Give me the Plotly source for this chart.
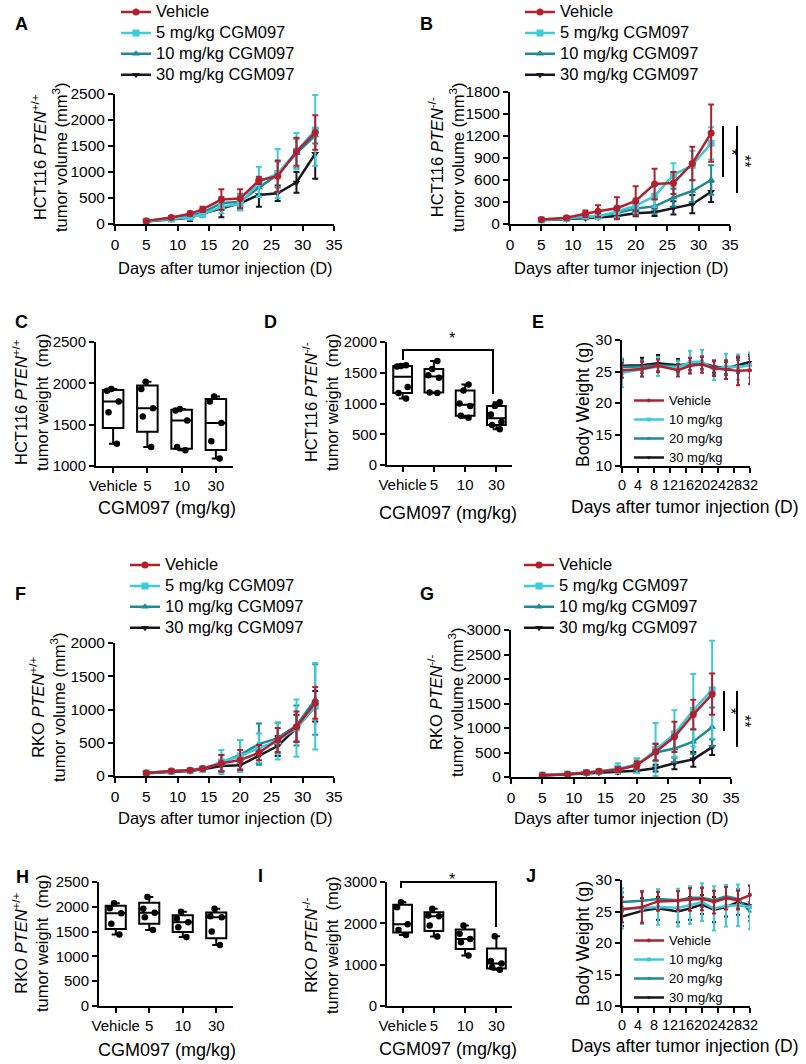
import plotly.graph_objects as go

W, H = 806, 1064
FONT = "Arial, Liberation Sans, sans-serif"

# ---------------- data ----------------
days = [5, 9, 12, 14, 17, 20, 23, 26, 29, 32]
bw_days = [0, 5, 9, 14, 17, 20, 23, 26, 29, 32]
groups = ["Vehicle", "5 mg/kg CGM097", "10 mg/kg CGM097", "30 mg/kg CGM097"]
bw_groups = ["Vehicle", "10 mg/kg", "20 mg/kg", "30 mg/kg"]
box_cats = ["Vehicle", "5", "10", "30"]

# A: HCT116 PTEN+/+ tumor volume
a_veh = [60, 125, 200, 280, 470, 490, 840, 920, 1390, 1760]
a_veh_sd = [15, 30, 40, 50, 200, 180, 70, 300, 270, 330]
a_5 = [55, 95, 130, 190, 330, 390, 810, 970, 1400, 1800]
a_5_sd = [10, 20, 30, 60, 120, 130, 290, 470, 350, 680]
a_10 = [55, 110, 160, 220, 400, 430, 700, 950, 1360, 1700]
a_10_sd = [10, 20, 30, 50, 120, 150, 150, 250, 280, 150]
a_30 = [50, 90, 120, 200, 300, 400, 560, 590, 800, 1350]
a_30_sd = [10, 20, 60, 60, 170, 130, 230, 150, 200, 480]

# B: HCT116 PTEN-/- tumor volume
b_veh = [60, 85, 140, 175, 215, 315, 545, 560, 825, 1240]
b_veh_sd = [10, 15, 45, 80, 150, 200, 210, 150, 230, 390]
b_5 = [55, 75, 110, 100, 170, 250, 380, 670, 800, 1100]
b_5_sd = [10, 10, 20, 30, 80, 100, 150, 160, 200, 220]
b_10 = [55, 70, 90, 110, 150, 210, 240, 360, 450, 600]
b_10_sd = [10, 10, 20, 30, 50, 80, 100, 120, 150, 200]
b_30 = [50, 65, 80, 90, 110, 145, 160, 220, 270, 440]
b_30_sd = [10, 10, 15, 20, 30, 40, 50, 90, 125, 140]

# F: RKO PTEN+/+ tumor volume
f_veh = [45, 75, 85, 110, 190, 240, 350, 540, 740, 1100]
f_veh_sd = [10, 15, 20, 25, 125, 150, 115, 180, 230, 240]
f_5 = [45, 70, 80, 100, 210, 300, 420, 530, 720, 1050]
f_5_sd = [10, 15, 20, 30, 180, 240, 220, 280, 430, 650]
f_10 = [50, 75, 85, 115, 200, 320, 480, 570, 760, 1150]
f_10_sd = [10, 15, 20, 30, 120, 220, 310, 230, 300, 530]
f_30 = [40, 65, 75, 100, 150, 160, 300, 450, 720, 1050]
f_30_sd = [10, 15, 20, 20, 80, 90, 110, 150, 200, 230]

# G: RKO PTEN-/- tumor volume
g_veh = [35, 55, 90, 115, 150, 240, 510, 820, 1275, 1690]
g_veh_sd = [10, 15, 20, 20, 50, 80, 170, 310, 300, 420]
g_5 = [40, 60, 90, 110, 180, 230, 560, 880, 1360, 1780]
g_5_sd = [10, 15, 20, 25, 100, 150, 540, 480, 740, 1000]
g_10 = [40, 55, 85, 105, 150, 260, 500, 580, 720, 1020]
g_10_sd = [10, 15, 20, 20, 60, 120, 180, 280, 250, 400]
g_30 = [30, 45, 70, 85, 100, 130, 180, 280, 360, 610]
g_30_sd = [10, 10, 15, 15, 30, 50, 70, 120, 150, 160]

# E: body weight (HCT116)
e_veh = [25.2, 25.4, 25.9, 25.2, 25.9, 26.1, 25.5, 25.3, 25.1, 25.2]
e_veh_sd = [1.2, 1.2, 1.0, 1.0, 1.2, 1.3, 1.2, 1.5, 2.3, 2.2]
e_10 = [24.8, 25.4, 25.8, 25.6, 26.5, 26.6, 25.2, 25.8, 25.7, 26.0]
e_10_sd = [2.3, 1.2, 1.5, 1.0, 1.8, 1.8, 1.6, 2.0, 2.0, 2.0]
e_20 = [25.7, 25.8, 26.0, 25.8, 26.2, 26.4, 25.6, 25.6, 25.8, 26.0]
e_20_sd = [1.0, 1.0, 1.0, 1.0, 1.0, 1.0, 1.0, 1.0, 1.0, 1.0]
e_30 = [25.9, 26.0, 26.3, 26.0, 26.2, 26.3, 25.8, 25.5, 26.0, 26.5]
e_30_sd = [1.0, 1.2, 1.3, 1.0, 1.0, 1.0, 1.0, 1.0, 1.2, 1.2]

# J: body weight (RKO)
j_veh = [25.3, 25.7, 26.6, 26.7, 26.9, 27.0, 26.5, 27.1, 26.8, 27.6]
j_veh_sd = [2.0, 2.5, 1.5, 1.5, 1.8, 1.8, 1.8, 1.8, 1.5, 1.5]
j_10 = [25.5, 25.5, 25.7, 25.6, 26.0, 26.5, 25.5, 25.9, 26.0, 25.7]
j_10_sd = [3.2, 2.5, 2.8, 3.0, 3.0, 3.0, 3.5, 3.3, 3.3, 3.5]
j_20 = [26.5, 26.7, 27.0, 26.8, 27.2, 27.2, 26.8, 27.4, 27.0, 25.0]
j_20_sd = [1.5, 1.5, 1.5, 1.5, 1.5, 1.5, 1.5, 1.5, 1.5, 1.5]
j_30 = [24.2, 25.1, 25.5, 25.0, 25.5, 26.1, 25.3, 25.7, 26.5, 26.0]
j_30_sd = [1.5, 2.0, 1.8, 1.7, 1.8, 1.5, 2.0, 1.5, 2.0, 1.8]

# C, D, H, I: tumor weights (mg)
c_veh = [1270, 1650, 1780, 1910, 1930]
c_5 = [1230, 1600, 1700, 1930, 2020]
c_10 = [1190, 1230, 1550, 1670, 1690]
c_30 = [1090, 1300, 1520, 1780, 1840]
d_veh = [1080, 1170, 1270, 1600, 1610, 1620]
d_5 = [1170, 1180, 1420, 1460, 1560, 1690]
d_10 = [770, 800, 960, 1000, 1210, 1310]
d_30 = [580, 650, 700, 820, 960, 1020]
h_veh = [1440, 1660, 1870, 1970, 2070]
h_5 = [1530, 1790, 1880, 1960, 2200]
h_10 = [1390, 1590, 1690, 1760, 1900]
h_30 = [1230, 1500, 1790, 1810, 1960]
i_veh = [1720, 1840, 1980, 2390, 2510]
i_5 = [1680, 1950, 2170, 2190, 2350]
i_10 = [1220, 1540, 1620, 1750, 1950]
i_30 = [880, 940, 1030, 1090, 1690]

# ---------------- styling ----------------
COLORS = ["#b2202f", "#3ccbd8", "#1d8a94", "#161620"]
SYMBOLS = ["circle", "square", "triangle-up", "triangle-down"]


def px(x):
    return x / W


def py(y):
    return 1 - y / H


def dom(l, r, t, b):
    return [px(l), px(r)], [py(b), py(t)]


def sized(text, size):
    return "<span style='font-size:%spx'>%s</span>" % (size, text)


fig = go.Figure()
layout = dict(
    width=W, height=H, margin=dict(l=0, r=0, t=0, b=0, pad=0, autoexpand=False),
    paper_bgcolor="white", plot_bgcolor="white",
    font=dict(family=FONT, color="black"),
    showlegend=True,
)


def axis(domain, anchor, size, **kw):
    d = dict(domain=domain, anchor=anchor, showline=True, linecolor="black",
             linewidth=2, ticks="outside", ticklen=5, tickwidth=2,
             tickcolor="black", showgrid=False, zeroline=False, automargin=False,
             tickfont=dict(size=size, color="black", family=FONT))
    d.update(kw)
    return d


panels = {
    # name: (idx, l, r, t, b)
    "A": (1, 115, 334, 94, 224),
    "B": (2, 510, 730, 92, 224),
    "C": (3, 96, 233, 342, 466),
    "D": (4, 387, 512, 342, 465),
    "E": (5, 622, 750, 340, 466),
    "F": (6, 115, 334, 643, 776),
    "G": (7, 511, 731, 630, 777),
    "H": (8, 99, 233, 882, 1006),
    "I": (9, 387, 512, 882, 1006),
    "J": (10, 622, 750, 880, 1006),
}


def refs(i):
    s = "" if i == 1 else str(i)
    return "x" + s, "y" + s, "xaxis" + s, "yaxis" + s


def add_growth(name, series, yrange, dtick, legend):
    i, l, r, t, b = panels[name]
    xr, yr, xa, ya = refs(i)
    xd, yd = dom(l, r, t, b)
    layout[xa] = axis(xd, yr, 15.5, range=[0, 35], tick0=0, dtick=5, tickangle=0)
    layout[ya] = axis(yd, xr, 15.5, range=yrange, tick0=0, dtick=dtick)
    for k in [3, 2, 1, 0]:
        m, sd = series[k]
        fig.add_trace(go.Scatter(
            x=days, y=m, name=sized(groups[k], 16.5), xaxis=xr, yaxis=yr, legend=legend,
            mode="lines+markers", cliponaxis=False,
            line=dict(color=COLORS[k], width=2.5),
            marker=dict(color=COLORS[k], symbol=SYMBOLS[k], size=7),
            error_y=dict(type="data", array=sd, visible=True, color=COLORS[k],
                         thickness=2, width=3),
        ))


def add_bw(name, series, legend):
    i, l, r, t, b = panels[name]
    xr, yr, xa, ya = refs(i)
    xd, yd = dom(l, r, t, b)
    layout[xa] = axis(xd, yr, 14.5, range=[0, 32], tick0=0, dtick=4, tickangle=0)
    layout[ya] = axis(yd, xr, 15, range=[10, 30], tick0=10, dtick=5)
    for k in [3, 2, 1, 0]:
        m, sd = series[k]
        fig.add_trace(go.Scatter(
            x=bw_days, y=m, name=sized(bw_groups[k], 13), xaxis=xr, yaxis=yr, legend=legend,
            mode="lines+markers", cliponaxis=False,
            line=dict(color=COLORS[k], width=2.5),
            marker=dict(color=COLORS[k], symbol=SYMBOLS[k], size=4),
            error_y=dict(type="data", array=sd, visible=True, color=COLORS[k],
                         thickness=2, width=2),
        ))


def add_box(name, values, yrange, dtick):
    i, l, r, t, b = panels[name]
    xr, yr, xa, ya = refs(i)
    xd, yd = dom(l, r, t, b)
    layout[xa] = axis(xd, yr, 15, type="category", categoryorder="array",
                      categoryarray=box_cats, range=[-0.5, 3.5], tickangle=0)
    layout[ya] = axis(yd, xr, 15, range=yrange, tick0=0, dtick=dtick)
    for cat, vals in zip(box_cats, values):
        fig.add_trace(go.Box(
            x=[cat] * len(vals), y=vals, xaxis=xr, yaxis=yr, showlegend=False,
            boxpoints="all", jitter=0.7, pointpos=0, width=0.6,
            quartilemethod="exclusive", whiskerwidth=0.4,
            fillcolor="white", line=dict(color="black", width=2),
            marker=dict(color="black", size=6.5),
        ))


add_growth("A", [(a_veh, a_veh_sd), (a_5, a_5_sd), (a_10, a_10_sd), (a_30, a_30_sd)],
           [0, 2500], 500, "legend")
add_growth("B", [(b_veh, b_veh_sd), (b_5, b_5_sd), (b_10, b_10_sd), (b_30, b_30_sd)],
           [0, 1800], 300, "legend2")
add_growth("F", [(f_veh, f_veh_sd), (f_5, f_5_sd), (f_10, f_10_sd), (f_30, f_30_sd)],
           [0, 2000], 500, "legend3")
add_growth("G", [(g_veh, g_veh_sd), (g_5, g_5_sd), (g_10, g_10_sd), (g_30, g_30_sd)],
           [0, 3000], 500, "legend4")
add_bw("E", [(e_veh, e_veh_sd), (e_10, e_10_sd), (e_20, e_20_sd), (e_30, e_30_sd)], "legend5")
add_bw("J", [(j_veh, j_veh_sd), (j_10, j_10_sd), (j_20, j_20_sd), (j_30, j_30_sd)], "legend6")
add_box("C", [c_veh, c_5, c_10, c_30], [1000, 2500], 500)
add_box("D", [d_veh, d_5, d_10, d_30], [0, 2000], 500)
add_box("H", [h_veh, h_5, h_10, h_30], [0, 2500], 500)
add_box("I", [i_veh, i_5, i_10, i_30], [0, 3000], 1000)


def leg(x, y, size):
    return dict(x=px(x), y=py(y), xanchor="left", yanchor="top",
                bgcolor="rgba(0,0,0,0)", traceorder="reversed",
                font=dict(size=size, family=FONT, color="black"),
                tracegroupgap=0, itemwidth=30, borderwidth=0)


layout["legend"] = leg(116, -3.5, 13.8)
layout["legend2"] = leg(520, -3.5, 13.8)
layout["legend3"] = leg(125, 549.5, 13.8)
layout["legend4"] = leg(519, 549.5, 13.8)
layout["legend5"] = leg(629, 386, 11.5)
layout["legend6"] = leg(629, 926, 11.5)

annotations = []


def ann(text, x, y, size, angle=0, bold=False):
    if bold:
        text = "<b>" + text + "</b>"
    annotations.append(dict(text=text, x=px(x), y=py(y), xref="paper", yref="paper",
                            showarrow=False, textangle=angle, xanchor="center",
                            yanchor="middle",
                            font=dict(size=size, family=FONT, color="black")))


# panel letters
for letter, (x, y) in {"A": (21, 24), "B": (426, 24), "C": (21, 322), "D": (270, 322),
                       "E": (538, 322), "F": (20, 594), "G": (427, 594),
                       "H": (22, 877), "I": (260, 876), "J": (531, 876)}.items():
    ann(letter, x, y, 18, bold=True)

days_title = "Days after tumor injection (D)"
dose_title = "CGM097 (mg/kg)"
ann(days_title, 225, 268, 16.5)
ann(days_title, 621, 268, 16.5)
ann(days_title, 225, 818, 16.5)
ann(days_title, 621, 818, 16.5)
ann(dose_title, 167, 508, 18)
ann(dose_title, 448, 513, 18)
ann(dose_title, 167, 1050, 18)
ann(dose_title, 448, 1049, 18)
ann(days_title, 685, 507, 17.5)
ann(days_title, 685, 1046, 17.5)

ann("HCT116 <i>PTEN</i><sup>+/+</sup><br>tumor volume (mm<sup>3</sup>)", 49, 158, 16.5, -90)
ann("HCT116 <i>PTEN</i><sup>-/-</sup><br>tumor volume (mm<sup>3</sup>)", 446, 158, 16.5, -90)
ann("HCT116 <i>PTEN</i><sup>+/+</sup><br>tumor weight  (mg)", 30, 402, 16.5, -90)
ann("HCT116 <i>PTEN</i><sup>-/-</sup><br>tumor weight  (mg)", 320, 402, 16.5, -90)
ann("Body Weight (g)", 583, 405, 17.5, -90)
ann("RKO <i>PTEN</i><sup>+/+</sup><br>tumor volume (mm<sup>3</sup>)", 47, 708, 16.5, -90)
ann("RKO <i>PTEN</i><sup>-/-</sup><br>tumor volume (mm<sup>3</sup>)", 445, 703, 16.5, -90)
ann("RKO <i>PTEN</i><sup>+/+</sup><br>tumor weight  (mg)", 30, 943, 16.5, -90)
ann("RKO <i>PTEN</i><sup>-/-</sup><br>tumor weight  (mg)", 320, 945, 16.5, -90)
ann("Body Weight (g)", 583, 944, 17.5, -90)

# significance marks
ann("*", 731, 152, 16, 90)
ann("**", 744, 161, 16, 90)
ann("*", 731, 711, 16, 90)
ann("**", 745, 721, 16, 90)
ann("*", 452, 338, 16)
ann("*", 452, 879, 16)

shapes = []


def seg(x0, y0, x1, y1):
    shapes.append(dict(type="line", xref="paper", yref="paper", x0=px(x0), y0=py(y0),
                       x1=px(x1), y1=py(y1), line=dict(color="black", width=2)))


seg(723, 126, 723, 177)
seg(737, 126, 737, 193)
seg(724, 691, 724, 731)
seg(737, 691, 737, 747)
# bracket D
seg(402, 350, 494, 350)
seg(403, 349, 403, 360)
seg(493, 349, 493, 394)
# bracket I
seg(400, 882, 497, 882)
seg(401, 881, 401, 888)
seg(496, 881, 496, 927)

layout["annotations"] = annotations
layout["shapes"] = shapes
fig.update_layout(**layout)
fig.write_html("out.html", config={"displayModeBar": False},
               post_script="document.body.style.margin='0px';document.body.style.padding='0px';")
